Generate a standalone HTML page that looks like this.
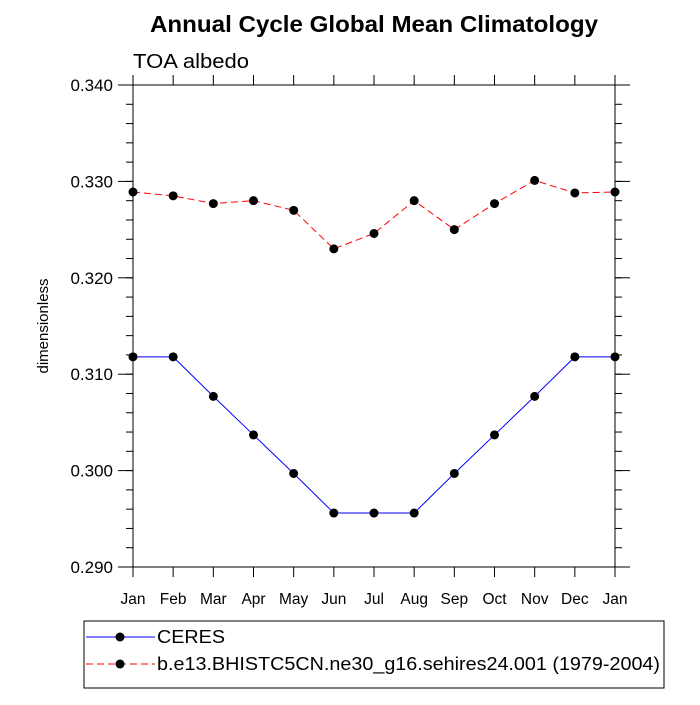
<!DOCTYPE html>
<html><head><meta charset="utf-8"><style>
body{margin:0;background:#fff}
svg text{font-family:"Liberation Sans",sans-serif}
</style></head><body>
<svg id="chart" width="700" height="700" viewBox="0 0 700 700">
<rect width="700" height="700" fill="#fff"/>
<text x="150" y="32" textLength="448" lengthAdjust="spacingAndGlyphs" font-size="23" font-weight="bold">Annual Cycle Global Mean Climatology</text>
<text x="133" y="68" textLength="116" lengthAdjust="spacingAndGlyphs" font-size="20">TOA albedo</text>
<text transform="translate(48,326) rotate(-90)" text-anchor="middle" font-size="15">dimensionless</text>
<g id="axes"></g>
<g id="series"></g>
<g>
<rect x="84" y="621" width="580" height="67" fill="none" stroke="#000" stroke-width="1"/>
<line x1="86" y1="637" x2="155" y2="637" stroke="#0000ff" stroke-width="1"/>
<circle cx="120" cy="637" r="4.5" fill="#000"/>
<text x="157" y="643" font-size="18" textLength="68" lengthAdjust="spacingAndGlyphs">CERES</text>
<line x1="86" y1="664" x2="155" y2="664" stroke="#ff0000" stroke-width="1" stroke-dasharray="7,4"/>
<circle cx="120" cy="664" r="4.5" fill="#000"/>
<text x="157" y="670" font-size="18" textLength="503" lengthAdjust="spacingAndGlyphs">b.e13.BHISTC5CN.ne30_g16.sehires24.001 (1979-2004)</text>
</g>
</svg>
<script>
const months=["Jan","Feb","Mar","Apr","May","Jun","Jul","Aug","Sep","Oct","Nov","Dec","Jan"];
const ceres=[0.3118,0.3118,0.3077,0.3037,0.2997,0.2956,0.2956,0.2956,0.2997,0.3037,0.3077,0.3118,0.3118];
const model=[0.3289,0.3285,0.3277,0.3280,0.3270,0.3230,0.3246,0.3280,0.3250,0.3277,0.3301,0.3288,0.3289];
const yTicks=[0.290,0.300,0.310,0.320,0.330,0.340];
const yTickLabels=["0.290","0.300","0.310","0.320","0.330","0.340"];
const X0=133,X1=615,Y0=567,Y1=85,YMIN=0.29,YMAX=0.34;
const NS="http://www.w3.org/2000/svg";
function xs(i){return X0+(X1-X0)*i/(months.length-1);}
function ys(v){return Y0-(v-YMIN)/(YMAX-YMIN)*(Y0-Y1);}
function mk(tag,attrs,parent){const e=document.createElementNS(NS,tag);for(const k in attrs)e.setAttribute(k,attrs[k]);parent.appendChild(e);return e;}
const ax=document.getElementById('axes');
const frame=mk('rect',{x:X0,y:Y1,width:X1-X0,height:Y0-Y1,fill:'none',stroke:'#000','stroke-width':1},ax);


for(let v=YMIN;v<=YMAX+1e-9;v+=0.002){const y=ys(v);
mk('line',{x1:X0-7,y1:y,x2:X0,y2:y,stroke:'#000'},ax);
mk('line',{x1:X1,y1:y,x2:X1+7,y2:y,stroke:'#000'},ax);}
yTicks.forEach((v,i)=>{const y=ys(v);
mk('line',{x1:X0-15,y1:y,x2:X0,y2:y,stroke:'#000'},ax);
mk('line',{x1:X1,y1:y,x2:X1+15,y2:y,stroke:'#000'},ax);
const t=mk('text',{x:X0-20,y:y+6,'text-anchor':'end','font-size':17},ax);t.textContent=yTickLabels[i];

});
months.forEach((m,i)=>{const x=xs(i);
mk('line',{x1:x,y1:Y0,x2:x,y2:Y0+10,stroke:'#000'},ax);
mk('line',{x1:x,y1:Y1-10,x2:x,y2:Y1,stroke:'#000'},ax);
const t=mk('text',{x:x,y:Y0+37,'text-anchor':'middle','font-size':15.5},ax);t.textContent=m;

});
const sg=document.getElementById('series');
function draw(vals,color,dash,name){
const g=mk('g',{},sg);


mk('polyline',{points:vals.map((v,i)=>xs(i)+','+ys(v)).join(' '),fill:'none',stroke:color,'stroke-width':1,'stroke-dasharray':dash},g);
vals.forEach((v,i)=>{const c=mk('circle',{cx:xs(i),cy:ys(v),r:4.5,fill:'#000'},g);

});}
draw(ceres,'#0000ff','none','ceres-series');
draw(model,'#ff0000','7,4','model-series');
</script>
</body></html>
